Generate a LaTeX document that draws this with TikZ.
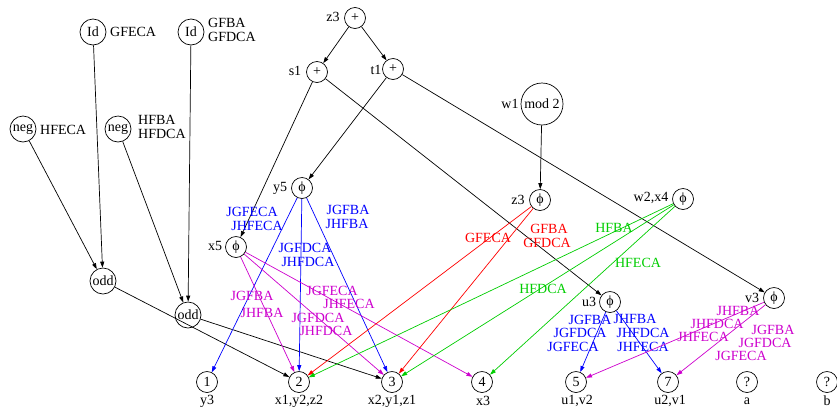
\documentclass[tikz,border=0pt]{standalone}
\usepackage{fontspec}
\setmainfont{Liberation Serif}
\usetikzlibrary{arrows.meta}
\definecolor{gvblue}{RGB}{0,0,255}
\definecolor{gvred}{RGB}{255,0,0}
\definecolor{gvgreen}{RGB}{0,205,0}
\definecolor{gvmag}{RGB}{205,0,205}
\begin{document}
\begin{tikzpicture}[x=1pt,y=-1pt,
  every node/.style={font=\fontsize{14}{14}\selectfont},
  sm/.style={circle,draw,line width=0.7pt,inner sep=0pt,minimum size=21pt},
  md/.style={circle,draw,line width=0.7pt,inner sep=0pt,minimum size=26pt},
  bg/.style={circle,draw,line width=0.7pt,inner sep=0pt,minimum size=42pt},
  txt/.style={inner sep=0pt,align=left},
  lbl/.style={inner sep=0pt},
  edge/.style={line width=0.7pt,-{Triangle[length=6pt,width=4pt]}},
  plain/.style={line width=0.7pt}]
\useasboundingbox (0,0) rectangle (837,408);
% top nodes
\node[md] (id1) at (93,32) {Id};
\node[txt,anchor=west] (id1t) at (110,32) {GFECA};
\node[md] (id2) at (191,32) {Id};
\node[txt,anchor=west] (id2t) at (208,30) {GFBA\\GFDCA};
\node[md] (neg1) at (23,129) {neg};
\node[txt,anchor=west] (neg1t) at (40,130) {HFECA};
\node[md] (neg2) at (118,129) {neg};
\node[txt,anchor=west] (neg2t) at (138,127) {HFBA\\HFDCA};
\node[md] (odd1) at (103,281) {odd};
\node[md] (odd2) at (188,315) {odd};
\node[sm] (pz) at (355,18) {+};
\node[lbl] (pzl) at (333,17) {z3};
\node[sm] (ps) at (317,72) {+};
\node[lbl] (psl) at (295,71) {s1};
\node[sm] (pt) at (393,69) {+};
\node[lbl] (ptl) at (376,70) {t1};
\node[bg] (w1) at (542,104) {mod 2};
\node[lbl] (w1l) at (510,104) {w1};
% phi nodes
\node[sm] (y5) at (302,188) {ϕ};
\node[lbl] (y5l) at (280,188) {y5};
\node[sm] (x5) at (236,247) {ϕ};
\node[lbl] (x5l) at (215,246) {x5};
\node[sm] (z3) at (540,200) {ϕ};
\node[lbl] (z3l) at (518,200) {z3};
\node[sm] (w2) at (683,199) {ϕ};
\node[lbl] (w2l) at (651,198) {w2,x4};
\node[sm] (u3) at (610,302) {ϕ};
\node[lbl] (u3l) at (589,302) {u3};
\node[sm] (v3) at (774,298) {ϕ};
\node[lbl] (v3l) at (752,298) {v3};
% bottom nodes
\node[sm] (n1) at (207,382) {1};
\node[sm] (n2) at (299,382) {2};
\node[sm] (n3) at (392,382) {3};
\node[sm] (n4) at (482,382) {4};
\node[sm] (n5) at (576,382) {5};
\node[sm] (n7) at (668,382) {7};
\node[sm] (na) at (747,382) {?};
\node[sm] (nb) at (827,382) {?};
\node[lbl] (n1l) at (207,401) {y3};
\node[lbl] (n2l) at (299,401) {x1,y2,z2};
\node[lbl] (n3l) at (392,401) {x2,y1,z1};
\node[lbl] (n4l) at (483,401) {x3};
\node[lbl] (n5l) at (577,401) {u1,v2};
\node[lbl] (n7l) at (670,401) {u2,v1};
\node[lbl] (nal) at (747,401) {a};
\node[lbl] (nbl) at (827,401) {b};
% black edges
\draw[edge] (id1) -- (odd1);
\draw[edge] (id2) -- (odd2);
\draw[edge] (neg1) -- (odd1);
\draw[edge] (neg2) -- (odd2);
\draw[edge] (odd1) -- (n2);
\draw[edge] (odd2) -- (n3);
\draw[edge] (pz) -- (ps);
\draw[edge] (pz) -- (pt);
\draw[edge] (ps) -- (x5);
\draw[edge] (ps) -- (u3);
\draw[edge] (pt) -- (y5);
\draw[edge] (pt) -- (v3);
\draw[edge] (w1) -- (z3);
% blue from y5
\draw[edge,gvblue] (y5) -- (n1);
\draw[edge,gvblue] (y5) -- (n2);
\draw[edge,gvblue] (y5) -- (n3);
\node[lbl,gvblue] (ly1a) at (252,212) {JGFECA};
\node[lbl,gvblue] (ly1b) at (257,226) {JHFECA};
\node[lbl,gvblue] (ly2a) at (305,248) {JGFDCA};
\node[lbl,gvblue] (ly2b) at (308,262) {JHFDCA};
\node[lbl,gvblue] (ly3a) at (348,210) {JGFBA};
\node[lbl,gvblue] (ly3b) at (347,224) {JHFBA};
% magenta from x5
\draw[edge,gvmag] (x5) -- (n2);
\draw[edge,gvmag] (x5) -- (n3);
\draw[edge,gvmag] (x5) -- (n4);
\node[lbl,gvmag] (lx1a) at (252,296) {JGFBA};
\node[lbl,gvmag] (lx1b) at (262,313) {JHFBA};
\node[lbl,gvmag] (lx2a) at (332,291) {JGFECA};
\node[lbl,gvmag] (lx2b) at (349,304) {JHFECA};
\node[lbl,gvmag] (lx3a) at (318,318) {JGFDCA};
\node[lbl,gvmag] (lx3b) at (326,331) {JHFDCA};
% red from z3
\draw[edge,gvred] (z3) -- (n2);
\draw[edge,gvred] (z3) -- (n3);
\node[lbl,gvred] (lz1) at (488,238) {GFECA};
\node[lbl,gvred] (lz2a) at (549,229) {GFBA};
\node[lbl,gvred] (lz2b) at (547,243) {GFDCA};
% green from w2,x4
\draw[edge,gvgreen] (w2) -- (n2);
\draw[edge,gvgreen] (w2) -- (n3);
\draw[edge,gvgreen] (w2) -- (n4);
\node[lbl,gvgreen] (lw1) at (614,228) {HFBA};
\node[lbl,gvgreen] (lw2) at (638,263) {HFECA};
\node[lbl,gvgreen] (lw3) at (543,289) {HFDCA};
% blue from u3
\draw[edge,gvblue] (u3) -- (n5);
\draw[edge,gvblue] (u3) -- (n7);
\node[lbl,gvblue] (lu1a) at (590,320) {JGFBA};
\node[lbl,gvblue] (lu1b) at (580,333) {JGFDCA};
\node[lbl,gvblue] (lu1c) at (573,347) {JGFECA};
\node[lbl,gvblue] (lu2a) at (635,319) {JHFBA};
\node[lbl,gvblue] (lu2b) at (643,333) {JHFDCA};
\node[lbl,gvblue] (lu2c) at (643,347) {JHFECA};
% magenta from v3
\draw[edge,gvmag] (v3) -- (n5);
\draw[edge,gvmag] (v3) -- (n7);
\node[lbl,gvmag] (lv1a) at (738,311) {JHFBA};
\node[lbl,gvmag] (lv1b) at (717,324) {JHFDCA};
\node[lbl,gvmag] (lv1c) at (703,337) {JHFECA};
\node[lbl,gvmag] (lv2a) at (773,330) {JGFBA};
\node[lbl,gvmag] (lv2b) at (765,343) {JGFDCA};
\node[lbl,gvmag] (lv2c) at (741,356) {JGFECA};
\end{tikzpicture}
\end{document}
